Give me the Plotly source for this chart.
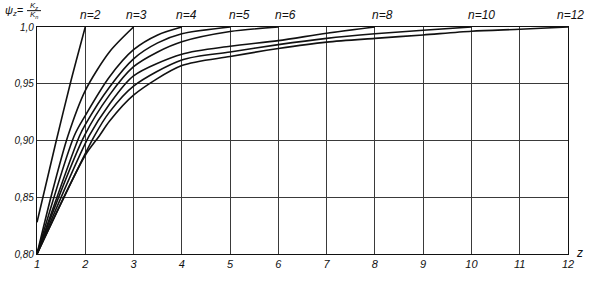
import plotly.graph_objects as go

# Data (z vs psi_z = K_z/K_n for several n)
z_n2 = [1, 1.4, 1.7, 2]
psi_n2 = [0.828, 0.900, 0.952, 1.0]

z_n3 = [1, 1.3, 1.64, 2, 2.5, 3]
psi_n3 = [0.80, 0.852, 0.904, 0.944, 0.978, 1.0]

z_n4 = [1, 1.77, 2, 2.5, 3, 3.5, 4]
psi_n4 = [0.80, 0.904, 0.922, 0.956, 0.980, 0.993, 1.0]

z_n5 = [1, 1.88, 2, 2.5, 3, 3.5, 4, 5]
psi_n5 = [0.80, 0.904, 0.914, 0.947, 0.972, 0.986, 0.994, 1.0]

z_n6 = [1, 1.98, 2.5, 3, 3.5, 4, 5, 6]
psi_n6 = [0.80, 0.904, 0.940, 0.965, 0.978, 0.987, 0.996, 1.0]

z_n8 = [1, 2.08, 2.5, 3, 4, 5, 6, 7, 8]
psi_n8 = [0.80, 0.904, 0.932, 0.957, 0.976, 0.983, 0.988, 0.9945, 1.0]

z_n10 = [1, 2.19, 2.5, 3, 4, 5, 6, 7, 8, 9, 10]
psi_n10 = [0.80, 0.904, 0.925, 0.948, 0.971, 0.978, 0.9845, 0.990, 0.994, 0.9972, 1.0]

z_n12 = [1, 2, 2.29, 2.5, 3, 4, 5, 6, 7, 8, 9, 10, 11, 12]
psi_n12 = [0.80, 0.887, 0.904, 0.917, 0.940, 0.966, 0.974, 0.981, 0.9867, 0.990, 0.993, 0.9962, 0.998, 1.0]

series = [
    ("n=2", z_n2, psi_n2), ("n=3", z_n3, psi_n3), ("n=4", z_n4, psi_n4),
    ("n=5", z_n5, psi_n5), ("n=6", z_n6, psi_n6), ("n=8", z_n8, psi_n8),
    ("n=10", z_n10, psi_n10), ("n=12", z_n12, psi_n12),
]
label_x = [2.1, 3.07, 4.1, 5.2, 6.15, 8.15, 10.2, 12.0]
label_shift = [0, 0, 0, 0, 0, 0, 0, 2]

x_ticks = list(range(1, 13))
x_ticktext = [str(v) for v in x_ticks]
y_ticks = [0.80, 0.85, 0.90, 0.95, 1.0]
y_ticktext = ["0,80", "0,85", "0,90", "0,95", "1,0"]

FONT = "Liberation Sans"


def px_x(p):
    return (p - 37) / 531.0


def px_y(p):
    return (263 - p) / 236.0


fig = go.Figure()
for (name, zs, ps) in series:
    fig.add_trace(go.Scatter(x=zs, y=ps, mode="lines", name=name,
                             line=dict(color="#111111", width=1.6, shape="spline", smoothing=0.8),
                             showlegend=False, cliponaxis=True))

for (name, _, _), lx, sh in zip(series, label_x, label_shift):
    fig.add_annotation(x=lx, y=px_y(15), xref="x", yref="paper",
                       xanchor="center", yanchor="middle", xshift=sh,
                       text=name, showarrow=False,
                       font=dict(family=FONT, size=12, color="#111", style="italic"))

fig.add_annotation(x=12, y=0.80, xref="x", yref="y", xshift=11, yshift=1,
                   xanchor="center", yanchor="middle",
                   text="z", showarrow=False,
                   font=dict(family=FONT, size=12, color="#111", style="italic"))

# y axis title: psi_z = K_z / K_n
fig.add_annotation(x=px_x(14), y=px_y(10), xref="paper", yref="paper",
                   xanchor="center", yanchor="middle",
                   text="ψ<sub>z</sub>=", showarrow=False,
                   font=dict(family=FONT, size=11, color="#111", style="italic"))
fig.add_annotation(x=px_x(34), y=px_y(5), xref="paper", yref="paper",
                   xanchor="center", yanchor="middle",
                   text="K<sub>z</sub>", showarrow=False,
                   font=dict(family=FONT, size=8, color="#111", style="italic"))
fig.add_annotation(x=px_x(34), y=px_y(15), xref="paper", yref="paper",
                   xanchor="center", yanchor="middle",
                   text="K<sub>n</sub>", showarrow=False,
                   font=dict(family=FONT, size=8, color="#111", style="italic"))
fig.add_shape(type="line", xref="paper", yref="paper",
              x0=px_x(27), x1=px_x(41), y0=px_y(10), y1=px_y(10),
              line=dict(color="#111", width=1))

fig.update_layout(
    width=598, height=282,
    margin=dict(l=37, r=30, t=27, b=19),
    paper_bgcolor="white", plot_bgcolor="white",
    xaxis=dict(range=[1, 12], tickvals=x_ticks, ticktext=x_ticktext,
               showgrid=True, gridcolor="#3a3a3a", gridwidth=1,
               showline=True, linecolor="#111", linewidth=1.2, mirror=True,
               ticks="", zeroline=False,
               tickfont=dict(family=FONT, size=11, color="#111", style="italic")),
    yaxis=dict(range=[0.80, 1.0], tickvals=y_ticks, ticktext=y_ticktext,
               showgrid=True, gridcolor="#3a3a3a", gridwidth=1,
               showline=True, linecolor="#111", linewidth=1.2, mirror=True,
               ticks="", zeroline=False,
               tickfont=dict(family=FONT, size=10, color="#111", style="italic")),
)

fig.write_html("out.html")
